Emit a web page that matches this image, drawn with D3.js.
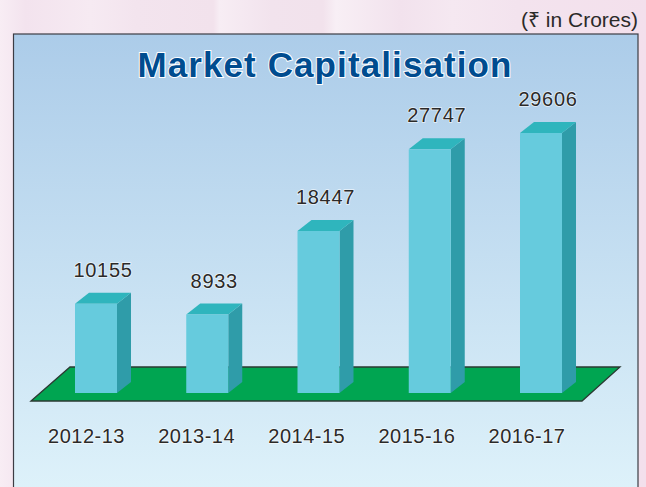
<!DOCTYPE html>
<html>
<head>
<meta charset="utf-8">
<script src="https://cdn.jsdelivr.net/npm/d3@7"></script>
<style>
  html, body { margin: 0; padding: 0; background: #f4e3ee; overflow: hidden; }
  svg { display: block; }
  text { font-family: "Liberation Sans", Arial, sans-serif; }
</style>
</head>
<body>
<div id="chart"></div>
<script>
var years = ["2012-13", "2013-14", "2014-15", "2015-16", "2016-17"];
var marketCap = [10155, 8933, 18447, 27747, 29606];
var valueLabels = ["10155", "8933", "18447", "27747", "29606"];

var width = 646, height = 487;
var depthX = 14, depthY = 11;

var svg = d3.select("#chart")
  .append("svg")
    .attr("width", width)
    .attr("height", height);

var defs = svg.append("defs");

var panelGrad = defs.append("linearGradient")
    .attr("id", "panelGrad")
    .attr("x1", 0).attr("y1", 0).attr("x2", 0).attr("y2", 1);
panelGrad.append("stop").attr("offset", "0%").attr("stop-color", "#accce9");
panelGrad.append("stop").attr("offset", "100%").attr("stop-color", "#e1f4fb");

// pale vertical bands behind the panel
var stripeGrad = defs.append("linearGradient")
    .attr("id", "stripeGrad")
    .attr("x1", 0).attr("y1", 0).attr("x2", 1).attr("y2", 0);
[[0, "#f8edf4"], [0.04, "#f3e3ee"], [0.14, "#f6eaf2"], [0.21, "#f3e4ee"], [0.33, "#f2e2ec"],
 [0.34, "#f7edf4"], [0.42, "#f2e3ed"], [0.50, "#f2e2ec"], [0.52, "#f8eff5"], [0.62, "#f2e2ed"],
 [0.70, "#f5e8f1"], [0.80, "#f3e3ee"], [1, "#f3e0ec"]].forEach(function(s) {
  stripeGrad.append("stop").attr("offset", s[0]).attr("stop-color", s[1]);
});

svg.append("rect")
    .attr("width", width)
    .attr("height", height)
    .attr("fill", "url(#stripeGrad)");

svg.append("rect")
    .attr("x", 13.5)
    .attr("y", 34)
    .attr("width", 624.5)
    .attr("height", height)
    .attr("fill", "url(#panelGrad)")
    .attr("stroke", "#3c3c44")
    .attr("stroke-width", 1.2);

svg.append("text")
    .attr("x", 638)
    .attr("y", 27)
    .attr("text-anchor", "end")
    .attr("fill", "#2b2a29")
    .style("font-size", "21px")
    .text("(\u20B9 in Crores)");

svg.append("text")
    .attr("x", 325)
    .attr("y", 77)
    .attr("text-anchor", "middle")
    .attr("fill", "#004c8f")
    .attr("stroke", "#ffffff")
    .attr("stroke-width", 2)
    .attr("paint-order", "stroke")
    .attr("font-weight", 700)
    .style("font-size", "35px")
    .style("letter-spacing", "1.1px")
    .text("Market Capitalisation");

var x = d3.scaleBand()
  .domain(years)
  .range([75, 562])
  .paddingInner(0.6225)
  .paddingOuter(0);

var y = d3.scaleLinear()
  .domain([0, 29606])
  .range([393, 133]);

var labelX = d3.scalePoint()
  .domain(years)
  .range([86.5, 527]);

// green floor
var floorPath = d3.path();
floorPath.moveTo(31, 401);
floorPath.lineTo(70, 367);
floorPath.lineTo(620, 367);
floorPath.lineTo(582, 401);
floorPath.closePath();

svg.append("path")
    .attr("d", floorPath.toString())
    .attr("fill", "#00a551")
    .attr("stroke", "#2a3a32")
    .attr("stroke-width", 1.3);

var rows = years.map(function(year, i) {
  return {year: year, value: marketCap[i], label: valueLabels[i]};
});

var bars = svg.selectAll(".bar")
  .data(rows)
  .enter()
  .append("g")
    .attr("class", "bar");

// right side
bars.append("path")
    .attr("fill", "#2f9ca9")
    .attr("d", function(d) {
      var right = x(d.year) + x.bandwidth(), top = y(d.value), base = y(0);
      return "M" + right + "," + top +
        "L" + (right + depthX) + "," + (top - depthY) +
        "L" + (right + depthX) + "," + (base - depthY) +
        "L" + right + "," + base + "Z";
    });

// top
bars.append("path")
    .attr("fill", "#2fb5bd")
    .attr("d", function(d) {
      var left = x(d.year), right = left + x.bandwidth(), top = y(d.value);
      return "M" + left + "," + top +
        "L" + (left + depthX) + "," + (top - depthY) +
        "L" + (right + depthX) + "," + (top - depthY) +
        "L" + right + "," + top + "Z";
    });

// front
bars.append("rect")
    .attr("x", function(d) { return x(d.year); })
    .attr("y", function(d) { return y(d.value); })
    .attr("width", x.bandwidth())
    .attr("height", function(d) { return y(0) - y(d.value); })
    .attr("fill", "#66cbdd");

// value labels sit above the back edge of each bar
svg.selectAll(".value")
  .data(rows)
  .enter()
  .append("text")
    .attr("class", "value")
    .attr("x", function(d) { return x(d.year) + x.bandwidth() / 2 + depthX / 2; })
    .attr("y", function(d) { return y(d.value) - 27; })
    .attr("text-anchor", "middle")
    .attr("fill", "#2b2a29")
    .attr("stroke", "#ffffff")
    .attr("stroke-width", 1.5)
    .attr("stroke-opacity", 0.7)
    .attr("paint-order", "stroke")
    .style("font-size", "20px")
    .style("letter-spacing", "0.7px")
    .text(function(d) { return d.label; });

svg.selectAll(".year")
  .data(years)
  .enter()
  .append("text")
    .attr("class", "year")
    .attr("x", function(d) { return labelX(d); })
    .attr("y", 443)
    .attr("text-anchor", "middle")
    .attr("fill", "#2b2a29")
    .attr("stroke", "#ffffff")
    .attr("stroke-width", 1.5)
    .attr("stroke-opacity", 0.7)
    .attr("paint-order", "stroke")
    .style("font-size", "20px")
    .style("letter-spacing", "0.5px")
    .text(function(d) { return d; });
</script>
</body>
</html>
